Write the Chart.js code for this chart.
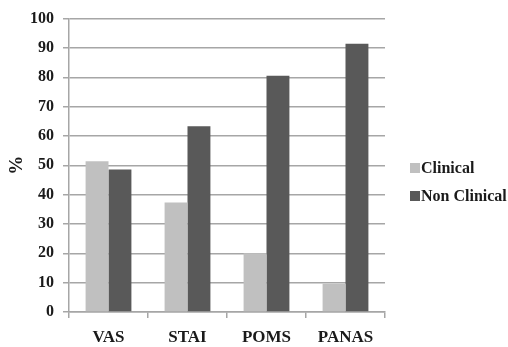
<!DOCTYPE html>
<html>
<head>
<meta charset="utf-8">
<script src="https://cdn.jsdelivr.net/npm/chart.js@4"></script>
<style>
  html, body { margin: 0; padding: 0; background: #fff; }
  #wrap { position: relative; width: 508px; height: 347px; }
  #legenda { position: absolute; left: 410px; top: 159px; margin: 0; padding: 0; list-style: none;
             font: bold 16px 'Liberation Serif', 'Times New Roman', serif; color: #1a1a1a; }
  #legenda li { display: flex; align-items: center; height: 18px; margin-bottom: 10px; white-space: nowrap; }
  #legenda span.caixa { display: inline-block; width: 10px; height: 10px; margin-right: 1px; }
</style>
</head>
<body>
<div id="wrap">
  <canvas id="myChart" width="508" height="347"></canvas>
  <ul id="legenda"></ul>
</div>
<script>
// dados
const categorias = ["VAS", "STAI", "POMS", "PANAS"];
const clinical = [51.4, 37.3, 20.0, 9.6];
const nonClinical = [48.6, 63.3, 80.5, 91.4];
const nomesSeries = ["Clinical", "Non Clinical"];

const fonte = "'Liberation Serif', 'Times New Roman', serif";
const corGrade = "#a6a6a6";
const corTexto = "#1a1a1a";

const data = {
    labels: categorias,
    datasets: [
        {
            label: nomesSeries[0],
            backgroundColor: "#c0c0c0",
            data: clinical,
            categoryPercentage: 0.58,
            barPercentage: 1.0,
        },
        {
            label: nomesSeries[1],
            backgroundColor: "#595959",
            data: nonClinical,
            categoryPercentage: 0.58,
            barPercentage: 1.0,
        },
    ],
};

const config = {
    type: "bar",
    data,
    options: {
        responsive: false,
        animation: false,
        devicePixelRatio: 1,
        layout: {
            padding: { left: 0, top: 12, right: 123, bottom: 0 },
        },
        plugins: {
            tooltip: { enabled: false },
            legend: { display: false },
        },
        scales: {
            x: {
                afterFit: (scale) => { scale.height = 35; },
                grid: {
                    display: true,
                    drawOnChartArea: false,
                    tickLength: 6,
                    color: corGrade,
                    lineWidth: 1.5,
                    offset: true,
                },
                border: { color: corGrade, width: 1.5 },
                ticks: {
                    color: corTexto,
                    padding: 9,
                    font: { family: fonte, size: 17, weight: "bold" },
                },
            },
            y: {
                min: 0,
                max: 100,
                afterFit: (scale) => { scale.width = 69; },
                ticks: {
                    stepSize: 10,
                    color: corTexto,
                    padding: 9,
                    font: { family: fonte, size: 16, weight: "bold" },
                },
                grid: {
                    color: corGrade,
                    lineWidth: 1.5,
                    tickLength: 6,
                },
                border: { color: corGrade, width: 1.5 },
                title: {
                    display: true,
                    text: "%",
                    color: corTexto,
                    padding: { top: 6, bottom: 0 },
                    font: { family: fonte, size: 19, weight: "bold" },
                },
            },
        },
    },
};

const myChart = new Chart(document.getElementById("myChart").getContext("2d"), config);

// legenda em html montada a partir dos datasets
function montarLegenda(chart) {
    const lista = document.getElementById("legenda");
    lista.innerHTML = "";
    chart.data.datasets.forEach(ds => {
        const item = document.createElement("li");
        const caixa = document.createElement("span");
        caixa.className = "caixa";
        caixa.style.background = ds.backgroundColor;
        item.appendChild(caixa);
        item.appendChild(document.createTextNode(ds.label));
        lista.appendChild(item);
    });
}
montarLegenda(myChart);
</script>
</body>
</html>
